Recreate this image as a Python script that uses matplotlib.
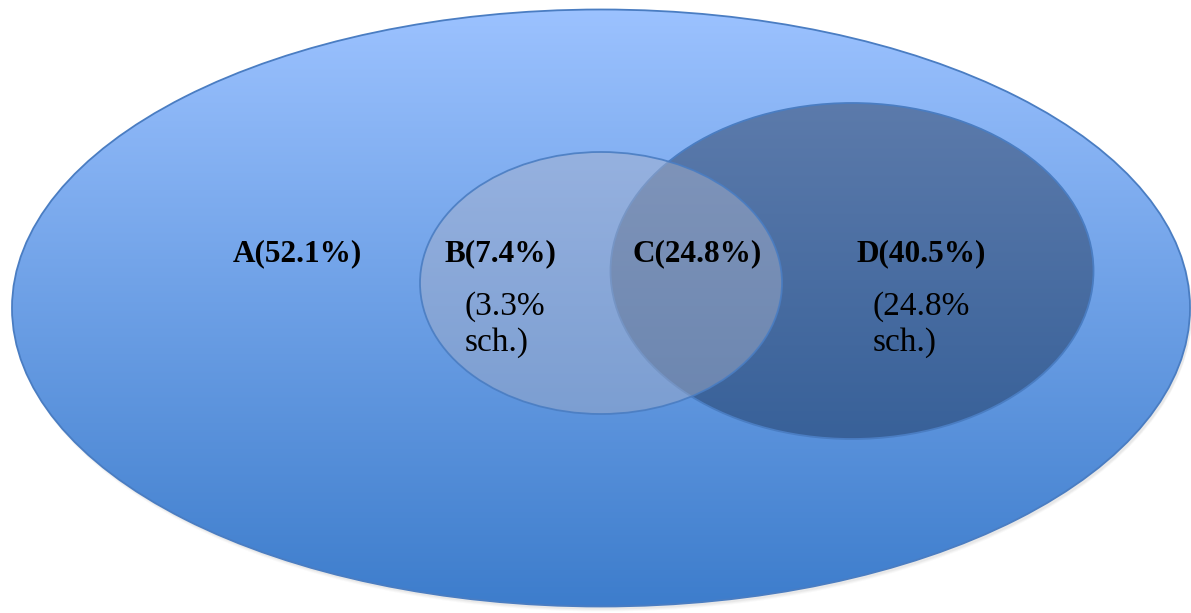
import numpy as np
import matplotlib
matplotlib.use("Agg")
import matplotlib.pyplot as plt
from matplotlib.patches import Ellipse
from matplotlib.colors import LinearSegmentedColormap

# data
labels = ["A", "B", "C", "D"]
pcts = [52.1, 7.4, 24.8, 40.5]
sch_labels = ["B", "D"]
sch_pcts = [3.3, 24.8]

# geometry in pixels (x right, y down): centre x, centre y, width, height
shapes = {
    "A": (601, 308, 1178, 597),
    "B": (601, 283, 362, 262),
    "D": (852, 271, 483, 336),
}
label_pos = {"A": (297, 254), "B": (500, 254), "C": (697, 254), "D": (921, 254)}
sch_pos = {"B": (465, 291), "D": (873, 291)}

W, H = 1191, 613
fig = plt.figure(figsize=(W / 100, H / 100), dpi=100)
ax = fig.add_axes([0, 0, 1, 1])
ax.set_xlim(0, W)
ax.set_ylim(H, 0)
ax.axis("off")

edge = (0.29, 0.49, 0.76)


def grad_ellipse(name, top, bottom, alpha=1.0, z=1):
    cx, cy, w, h = shapes[name]
    cmap = LinearSegmentedColormap.from_list(name, [top, bottom])
    g = np.linspace(0, 1, 256).reshape(-1, 1)
    ext = (cx - w / 2, cx + w / 2, cy + h / 2, cy - h / 2)
    im = ax.imshow(g, cmap=cmap, extent=ext, aspect="auto", alpha=alpha,
                   zorder=z, interpolation="bilinear")
    clip = Ellipse((cx, cy), w, h, facecolor="none", edgecolor="none")
    ax.add_patch(clip)
    im.set_clip_path(clip)
    ax.add_patch(Ellipse((cx, cy), w, h, facecolor="none", edgecolor=edge,
                         lw=1.3, zorder=z + 0.5, alpha=min(1, alpha + 0.4)))


# soft shadow under the big ellipse
cx, cy, w, h = shapes["A"]
for i, a in enumerate([0.05, 0.04, 0.03]):
    ax.add_patch(Ellipse((cx + 2, cy + 3 + i), w, h, facecolor=(0.3, 0.3, 0.3),
                         alpha=a, edgecolor="none", zorder=0.5))

grad_ellipse("A", (0.61, 0.76, 1.0), (0.24, 0.49, 0.80), z=1)
grad_ellipse("D", (0.36, 0.48, 0.67), (0.22, 0.38, 0.60), z=3)
grad_ellipse("B", (0.66, 0.70, 0.80), (0.62, 0.67, 0.78), alpha=0.5, z=5)

font = ["Liberation Serif", "DejaVu Serif"]
for lab, p in zip(labels, pcts):
    x, y = label_pos[lab]
    ax.text(x, y, f"{lab}({p}%)", ha="center", va="center", fontsize=22.5,
            fontweight="bold", family=font, color="black", zorder=10)

for lab, p in zip(sch_labels, sch_pcts):
    x, y = sch_pos[lab]
    ax.text(x, y, f"({p}%\nsch.)", ha="left", va="top", fontsize=24,
            family=font, color="black", linespacing=1.25, zorder=10)

fig.savefig("out.png", dpi=100)
